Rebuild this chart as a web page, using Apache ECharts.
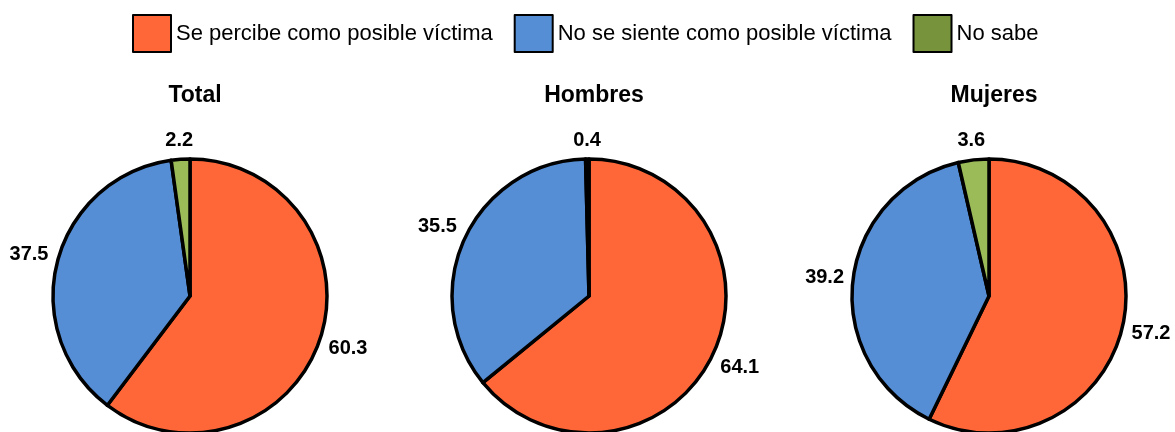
<!DOCTYPE html>
<html>
<head>
<meta charset="utf-8">
<script src="https://cdn.jsdelivr.net/npm/echarts@6/dist/echarts.min.js"></script>
<style>
  html, body { margin: 0; padding: 0; background: #fff; }
  #chart { width: 1175px; height: 432px; }
</style>
</head>
<body>
<div id="chart"></div>
<script>
const categories = ["Se percibe como posible víctima", "No se siente como posible víctima", "No sabe"];
const groups = ["Total", "Hombres", "Mujeres"];
const totalValues = [60.3, 37.5, 2.2];
const hombresValues = [64.1, 35.5, 0.4];
const mujeresValues = [57.2, 39.2, 3.6];

const sliceColors = ["#FF6739", "#558ED5", "#9BBB59"];
const legendColors = ["#FF6739", "#558ED5", "#77933C"];
const font = "'Liberation Sans', Arial, sans-serif";

const centersX = [190, 589, 989];
const centerY = 296;
const radius = 137;
const labelGap = 8;

const chart = echarts.init(document.getElementById("chart"));

// place each label just outside the slice, along its middle angle (like Excel "outside end")
const makeLabelLayout = (values, cx) => (params) => {
  const i = params.dataIndex;
  let before = 0;
  for (let k = 0; k < i; k++) before += values[k];
  const mid = (90 - 3.6 * (before + values[i] / 2)) * Math.PI / 180;
  const dx = Math.cos(mid);
  const dy = -Math.sin(mid);
  const w = params.labelRect.width;
  const h = params.labelRect.height;
  const ext = Math.abs(dx) * w / 2 + Math.abs(dy) * h / 2;
  const d = radius + labelGap + ext;
  return {
    x: cx + d * dx,
    y: centerY + d * dy,
    align: "center",
    verticalAlign: "middle",
  };
};

const seriesValues = [totalValues, hombresValues, mujeresValues];

chart.setOption({
  animation: false,
  textStyle: { fontFamily: font },
  title: groups.map((g, i) => ({
    text: g,
    left: centersX[i],
    top: 79,
    textAlign: "center",
    textStyle: { fontSize: 23, fontWeight: "bold", color: "#000", fontFamily: font },
  })),
  legend: {
    left: 127,
    top: 9,
    itemWidth: 38,
    itemHeight: 37,
    itemGap: 21,
    selectedMode: false,
    icon: "rect",
    textStyle: { fontSize: 22, color: "#000", fontFamily: font },
    itemStyle: { borderColor: "#000", borderWidth: 2 },
    data: categories.map((c, i) => ({
      name: c,
      itemStyle: { color: legendColors[i], borderColor: "#000", borderWidth: 2 },
    })),
  },
  series: seriesValues.map((vals, s) => ({
    type: "pie",
    center: [centersX[s], centerY],
    radius: radius,
    startAngle: 90,
    clockwise: true,
    avoidLabelOverlap: false,
    silent: true,
    emphasis: { disabled: true },
    itemStyle: { borderColor: "#000", borderWidth: 3.5 },
    label: {
      show: true,
      position: "outside",
      fontSize: 20,
      fontWeight: "bold",
      color: "#000",
      fontFamily: font,
      formatter: (p) => p.value.toFixed(1),
    },
    labelLine: { show: false },
    labelLayout: makeLabelLayout(vals, centersX[s]),
    data: categories.map((c, i) => ({
      name: c,
      value: vals[i],
      itemStyle: { color: sliceColors[i] },
    })),
  })),
});
</script>
</body>
</html>
